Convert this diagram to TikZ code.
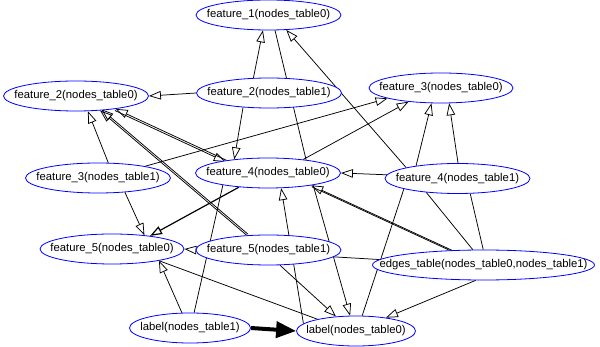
\documentclass[tikz,border=0pt]{standalone}
\usepackage{fontspec}
\setmainfont{Liberation Sans}
\usetikzlibrary{shapes.geometric,arrows.meta,backgrounds}
\newcommand\lbl[1]{\makebox[0pt]{#1}}
\begin{document}
\begin{tikzpicture}[x=1pt,y=-1pt,
  gnode/.style={ellipse, draw=blue, fill=white, line width=0.8pt, inner sep=0pt,
    minimum height=30pt, font=\fontsize{11.3}{13}\selectfont},
  edge/.style={draw=black, line width=0.75pt},
  dir/.style={edge, -{Triangle[open, length=12pt, width=8.5pt]}},
  bold/.style={draw=black, line width=4pt, -{Triangle[length=20pt, width=16pt]}}]
\useasboundingbox (0,0) rectangle (600,347);
\node[gnode, minimum width=145pt] (f10) at (268.5,15) {\lbl{feature\_1(nodes\_table0)}};
\node[gnode, minimum width=145pt] (f21) at (269,93) {\lbl{feature\_2(nodes\_table1)}};
\node[gnode, minimum width=145pt] (f20) at (76,96) {\lbl{feature\_2(nodes\_table0)}};
\node[gnode, minimum width=144pt] (f30) at (441,88) {\lbl{feature\_3(nodes\_table0)}};
\node[gnode, minimum width=145pt] (f31) at (98,178) {\lbl{feature\_3(nodes\_table1)}};
\node[gnode, minimum width=145pt] (f40) at (268,173) {\lbl{feature\_4(nodes\_table0)}};
\node[gnode, minimum width=145pt] (f41) at (457.5,178.5) {\lbl{feature\_4(nodes\_table1)}};
\node[gnode, minimum width=144pt] (f50) at (112,249) {\lbl{feature\_5(nodes\_table0)}};
\node[gnode, minimum width=145pt] (f51) at (268.5,250) {\lbl{feature\_5(nodes\_table1)}};
\node[gnode, minimum width=222pt] (et) at (483.5,265) {\lbl{edges\_table(nodes\_table0,nodes\_table1)}};
\node[gnode, minimum width=121pt] (l1) at (190,328) {\lbl{label(nodes\_table1)}};
\node[gnode, minimum width=119pt] (l0) at (356,331) {\lbl{label(nodes\_table0)}};
\begin{pgfonlayer}{background}
\draw[dir] (f21.136.8) -- (f10.250);
\draw[edge] (f10.293.4) -- (f40.19.9);
\draw[dir] (f41.168.4) -- (f10.320.4);
\draw[dir] (f21.180) -- (f20.0);
\draw[dir] (f21.209.2) -- (f40.158.2);
\draw[dir] (f31.56.3) -- (f20.308.7);
\draw[dir] (f40.163.2) -- (f20.342.4);
\draw[dir] ([shift={(-0.8,1.6)}]f20.342.4) -- ([shift={(-0.8,1.6)}]f40.163.2);
\draw[dir] (f51.146.9) -- (f20.329.4);
\draw[dir] ([shift={(1.2,-1.2)}]f51.146.9) -- ([shift={(1.2,-1.2)}]f20.329.4);
\draw[dir] (f31.14.3) -- (f30.191.7);
\draw[dir] (f40.21.8) -- (f30.203.5);
\draw[dir] (f41.163.6) -- (f30.238.9);
\draw[dir] (f41.88) -- (f30.298.2);
\draw[dir] (f41.177.2) -- (f40.0);
\draw[dir] (f31.332.6) -- (f50.23.4);
\draw[dir, line width=1.2pt] (f40.206.2) -- (f50.19.9);
\draw[dir] (f51.180) -- (f50.0);
\draw[dir] (l1.118) -- (f50.346.9);
\draw[edge] (f50.346.9) -- (l0.163.2);
\draw[dir] (f51.307.8) -- (l0.144.8);
\draw[dir] (et.155.4) -- (f40.344.9);
\draw[edge] ([shift={(0.6,1.4)}]et.155.4) -- ([shift={(0.6,1.4)}]f40.344.9);
\draw[dir] (et.243) -- (l0.24.3);
\draw[bold] (l1.0) -- (l0.180);
\draw[edge] (f41.191.2) -- (l0.68);
\draw[edge] (f41.204) -- (et.125.2);
\draw[edge] (f41.310.2) -- (et.91);
\draw[edge] (f51.354.8) -- (et.177);
\draw[edge] (f40.195.1) -- (l1.75);
\draw[dir] (l0.172.3) -- (f40.311);
\draw[dir] (f40.345.7) -- (l0.111.8);
\end{pgfonlayer}
\end{tikzpicture}
\end{document}
